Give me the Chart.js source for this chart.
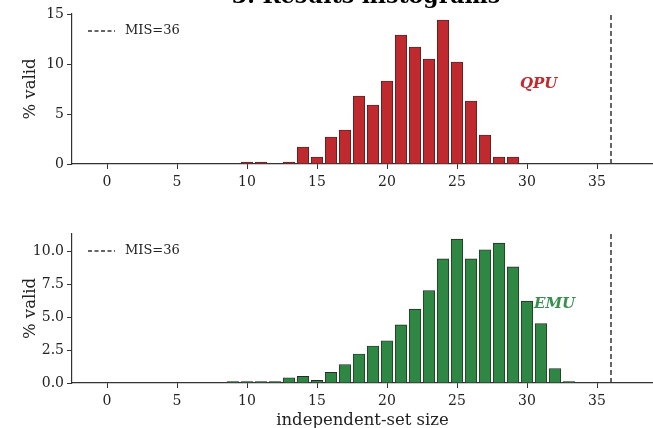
<!DOCTYPE html>
<html>
<head>
<meta charset="utf-8">
<script src="https://cdn.jsdelivr.net/npm/chart.js@4"></script>
<style>
  body { margin: 0; background: #fff; width: 653px; height: 428px; overflow: hidden; position: relative; }
  .panel { position: absolute; left: 0; width: 653px; }
</style>
</head>
<body>
<div class="panel" style="top:0;height:200px"><canvas id="qpuChart"></canvas></div>
<div class="panel" style="top:215px;height:213px"><canvas id="emuChart"></canvas></div>
<script>
// independent-set sizes (bins) and % valid per bin
const sizes = [9, 10, 11, 12, 13, 14, 15, 16, 17, 18, 19, 20, 21, 22, 23, 24, 25, 26, 27, 28, 29, 30, 31, 32, 33];
const qpuValues = [null, 0.2, 0.2, null, 0.2, 1.7, 0.7, 2.7, 3.4, 6.8, 5.9, 8.3, 12.9, 11.7, 10.5, 14.4, 10.2, 6.3, 2.9, 0.7, 0.7, null, null, null, null];
const emuValues = [0.1, 0.1, 0.1, 0.1, 0.4, 0.5, 0.2, 0.8, 1.4, 2.2, 2.8, 3.2, 4.4, 5.6, 7.0, 9.4, 10.9, 9.4, 10.1, 10.6, 8.8, 6.2, 4.5, 1.1, 0.1];
const xTicks = [0, 5, 10, 15, 20, 25, 30, 35];
const qpuYTicks = [0, 5, 10, 15];
const emuYTicks = [0, 2.5, 5, 7.5, 10];
const misValue = 36;
const misLabel = 'MIS=36';
const titleText = '3. Results histograms';

Chart.defaults.font.family = "'DejaVu Serif', serif";
Chart.defaults.font.size = 13;
Chart.defaults.color = '#222';

const AXIS = '#333';

// legend, annotation label and title drawn on top of the chart
const overlay = {
  id: 'overlay',
  afterDatasetsDraw(chart, args, opts) {
    const { ctx, chartArea } = chart;
    const xs = chart.scales.x, ys = chart.scales.y;
    ctx.save();
    // legend entry for the MIS line
    const ly = chartArea.top + 17;
    ctx.strokeStyle = AXIS;
    ctx.lineWidth = 1.5;
    ctx.setLineDash([4, 2.5]);
    ctx.beginPath();
    ctx.moveTo(chartArea.left + 16, ly);
    ctx.lineTo(chartArea.left + 43, ly);
    ctx.stroke();
    ctx.setLineDash([]);
    ctx.fillStyle = '#222';
    ctx.font = "13px 'DejaVu Serif'";
    ctx.textBaseline = 'middle';
    ctx.textAlign = 'left';
    ctx.fillText(misLabel, chartArea.left + 53, ly);
    // series name
    ctx.fillStyle = opts.color;
    ctx.font = "italic bold 15px 'DejaVu Serif'";
    ctx.fillText(opts.label, xs.getPixelForValue(opts.at[0]), ys.getPixelForValue(opts.at[1]));
    if (opts.title) {
      ctx.fillStyle = '#000';
      ctx.font = "bold 22px 'DejaVu Serif'";
      ctx.textAlign = 'center';
      ctx.textBaseline = 'alphabetic';
      ctx.fillText(opts.title, 366, 3);
    }
    ctx.restore();
  }
};

function makeChart(id, values, color, yMax, yTicks, yFmt, opts) {
  return new Chart(document.getElementById(id), {
    data: {
      datasets: [
        {
          type: 'bar',
          data: sizes.map((s, i) => ({ x: s, y: values[i] })),
          backgroundColor: color,
          borderColor: '#2a2a2a',
          borderWidth: 0.9,
          barThickness: 11.7
        },
        {
          type: 'line',
          label: misLabel,
          data: [{ x: misValue, y: 0 }, { x: misValue, y: yMax }],
          borderColor: AXIS,
          borderWidth: 1.5,
          borderDash: [5, 3],
          pointRadius: 0
        }
      ]
    },
    options: {
      responsive: true,
      maintainAspectRatio: false,
      animation: false,
      layout: { padding: { top: opts.top, right: 0, left: 0, bottom: 0 } },
      plugins: {
        legend: { display: false },
        tooltip: { enabled: false },
        overlay: { label: opts.label, color: opts.textColor, at: opts.at, title: opts.title }
      },
      scales: {
        x: {
          type: 'linear',
          offset: false,
          min: -2.5,
          max: 39.0,
          afterBuildTicks: s => { s.ticks = xTicks.map(v => ({ value: v })); },
          afterFit: s => { s.height = opts.xHeight; },
          grid: { display: true, offset: false, drawOnChartArea: false, drawTicks: true, tickLength: 5, color: AXIS },
          border: { display: true, color: AXIS, width: 1.2 },
          ticks: { padding: 5, font: { size: 14 } },
          title: opts.xTitle ? { display: true, text: opts.xTitle, font: { size: 16.5 }, padding: { top: 0, bottom: -3 } } : { display: false }
        },
        y: {
          min: 0,
          max: yMax,
          afterBuildTicks: s => { s.ticks = yTicks.map(v => ({ value: v })); },
          afterFit: s => { s.width = 72; },
          grid: { display: true, drawOnChartArea: false, drawTicks: true, tickLength: 5, color: AXIS },
          border: { display: true, color: AXIS, width: 1.2 },
          ticks: { padding: 3, font: { size: 14 }, callback: v => yFmt(v) },
          title: { display: true, text: '% valid', font: { size: 16.5 }, padding: { top: 21, bottom: 0 } }
        }
      }
    },
    plugins: [overlay]
  });
}

makeChart('qpuChart', qpuValues, '#c0292e', 15, qpuYTicks, v => String(v),
  { top: 14, xHeight: 36, label: 'QPU', textColor: '#c0292e', at: [29.5, 8.0], title: titleText });
makeChart('emuChart', emuValues, '#2e8743', 11.29, emuYTicks, v => v.toFixed(1),
  { top: 19, xHeight: 45, label: 'EMU', textColor: '#3a8f4f', at: [30.5, 6.0], xTitle: 'independent-set size' });
</script>
</body>
</html>
